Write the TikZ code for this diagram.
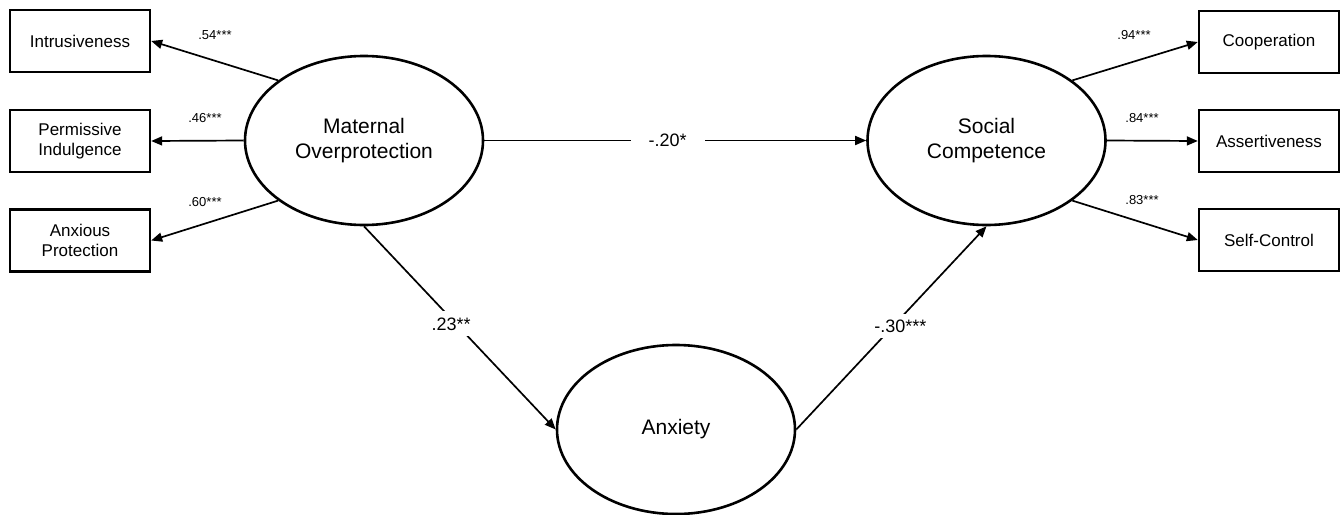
\documentclass[tikz,border=0pt]{standalone}
\usepackage{fontspec}
\setmainfont{Liberation Sans}
\usetikzlibrary{arrows.meta,shapes.geometric}
\begin{document}
\begin{tikzpicture}[x=1pt,y=-1pt,
  latent/.style={draw,ellipse,line width=2.6pt,minimum width=238pt,minimum height=169pt,inner sep=0pt,align=center,font=\fontsize{21}{25}\selectfont},
  obs/.style={draw,rectangle,line width=2.4pt,minimum width=140pt,minimum height=62pt,inner sep=0pt,align=center,font=\fontsize{17}{19.5}\selectfont},
  path/.style={line width=1.7pt,-{Triangle[length=11pt,width=9pt]}},
  load/.style={font=\fontsize{13}{15}\selectfont,inner sep=0pt},
  coef/.style={fill=white,inner sep=6pt,font=\fontsize{18}{20}\selectfont}]
\useasboundingbox (0,0) rectangle (1343,514);
% latent variables
\node[latent] (mo) at (364,140.5) {Maternal\\Overprotection};
\node[latent] (sc) at (986.5,140.5) {Social\\Competence};
\node[latent] (ax) at (676,429.5) {Anxiety};
% indicators
\node[obs] (intr) at (80,41) {Intrusiveness};
\node[obs] (perm) at (80,141) {Permissive\\Indulgence};
\node[obs] (anxp) at (80,240.5) {Anxious\\Protection};
\node[obs] (coop) at (1269,42) {Cooperation};
\node[obs] (asse) at (1269,141) {Assertiveness};
\node[obs] (selc) at (1269,240) {Self-Control};
% loadings
\draw[path] (mo.145) -- (intr.east);
\draw[path] (mo.west) -- (perm.east);
\draw[path] (mo.215) -- (anxp.east);
\draw[path] (sc.35) -- (coop.west);
\draw[path] (sc.east) -- (asse.west);
\draw[path] (sc.-35) -- (selc.west);
\node[load] (l1) at (215,35) {.54***};
\node[load] (l2) at (205,118) {.46***};
\node[load] (l3) at (205,202) {.60***};
\node[load] (l4) at (1134,35) {.94***};
\node[load] (l5) at (1142,118) {.84***};
\node[load] (l6) at (1142,200) {.83***};
% structural paths
\draw[path] (mo.east) -- node[coef,pos=0.48,inner xsep=18pt] (c1) {-.20*} (sc.west);
\draw[path] (mo.south) -- node[coef,pos=0.48,xshift=-5pt] (c2) {.23**} (ax.west);
\draw[path] (ax.east) -- node[coef,pos=0.51,xshift=7pt] (c3) {-.30***} (sc.south);
\end{tikzpicture}
\end{document}
